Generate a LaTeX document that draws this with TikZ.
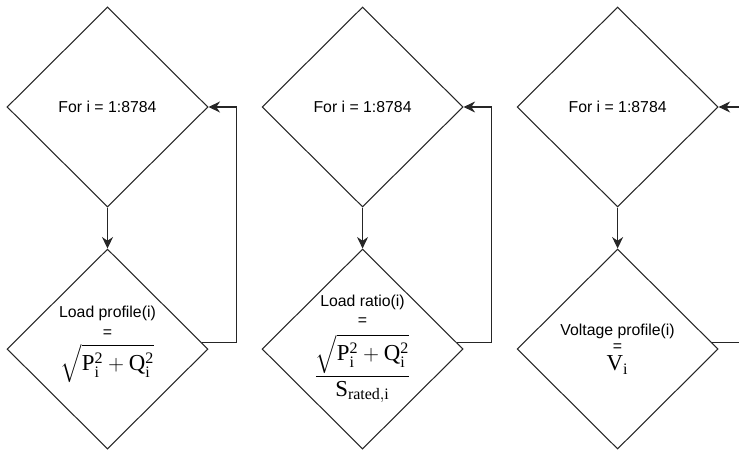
\documentclass[tikz,border=0pt]{standalone}
\usepackage{amsmath}
\usepackage{fontspec}
\setmainfont{Liberation Sans}
\setmathrm{Liberation Serif}
\usetikzlibrary{shapes.geometric,arrows.meta,positioning}

\begin{document}
\begin{tikzpicture}[
  dia/.style={diamond,draw=black!85,line width=0.6pt,minimum width=4.02cm,minimum height=4cm,inner sep=-0.3cm,align=center,font=\fontsize{9}{11}\selectfont},
  link/.style={draw=black!85,line width=0.6pt,-{Stealth[length=2.3mm,width=2.2mm]}}]
\useasboundingbox (0,0) rectangle (14.78,9);
\node[dia] (F1) at (2.15,6.86) {For i = 1:8784};
\node[dia,right=1.06cm of F1] (F2) {For i = 1:8784};
\node[dia,right=1.06cm of F2] (F3) {For i = 1:8784};
\node[dia,below=0.82cm of F1] (L1) {Load profile(i)\\=\\[3pt]{\fontsize{13}{14}\selectfont$\sqrt{\mathrm{P}_{\mathrm{i}}^{\mathrm{2}}+\mathrm{Q}_{\mathrm{i}}^{\mathrm{2}}}$}\\[1pt]};
\node[dia,below=0.82cm of F2] (L2) {Load ratio(i)\\=\\[4pt]{\fontsize{13}{14}\selectfont$\dfrac{\sqrt{\mathrm{P}_{\mathrm{i}}^{\mathrm{2}}+\mathrm{Q}_{\mathrm{i}}^{\mathrm{2}}}}{\mathrm{S}_{\mathrm{rated,i}}}$}};
\node[dia,below=0.82cm of F3] (L3) {Voltage profile(i)\\[-2pt]=\\[0pt]{\fontsize{13}{14}\selectfont$\mathrm{V}_{\mathrm{i}}$}};
\coordinate[right=0.55cm of L1.east] (C1);
\coordinate[right=0.55cm of L2.east] (C2);
\coordinate[right=0.55cm of L3.east] (C3);
\draw[link] (F1) -- (L1);
\draw[link] (F2) -- (L2);
\draw[link] (F3) -- (L3);
\draw[link] (L1.4) -- (L1.4 -| C1) |- (F1.east);
\draw[link] (L2.4) -- (L2.4 -| C2) |- (F2.east);
\draw[link] (L3.4) -- (L3.4 -| C3) |- (F3.east);
\end{tikzpicture}
\end{document}
